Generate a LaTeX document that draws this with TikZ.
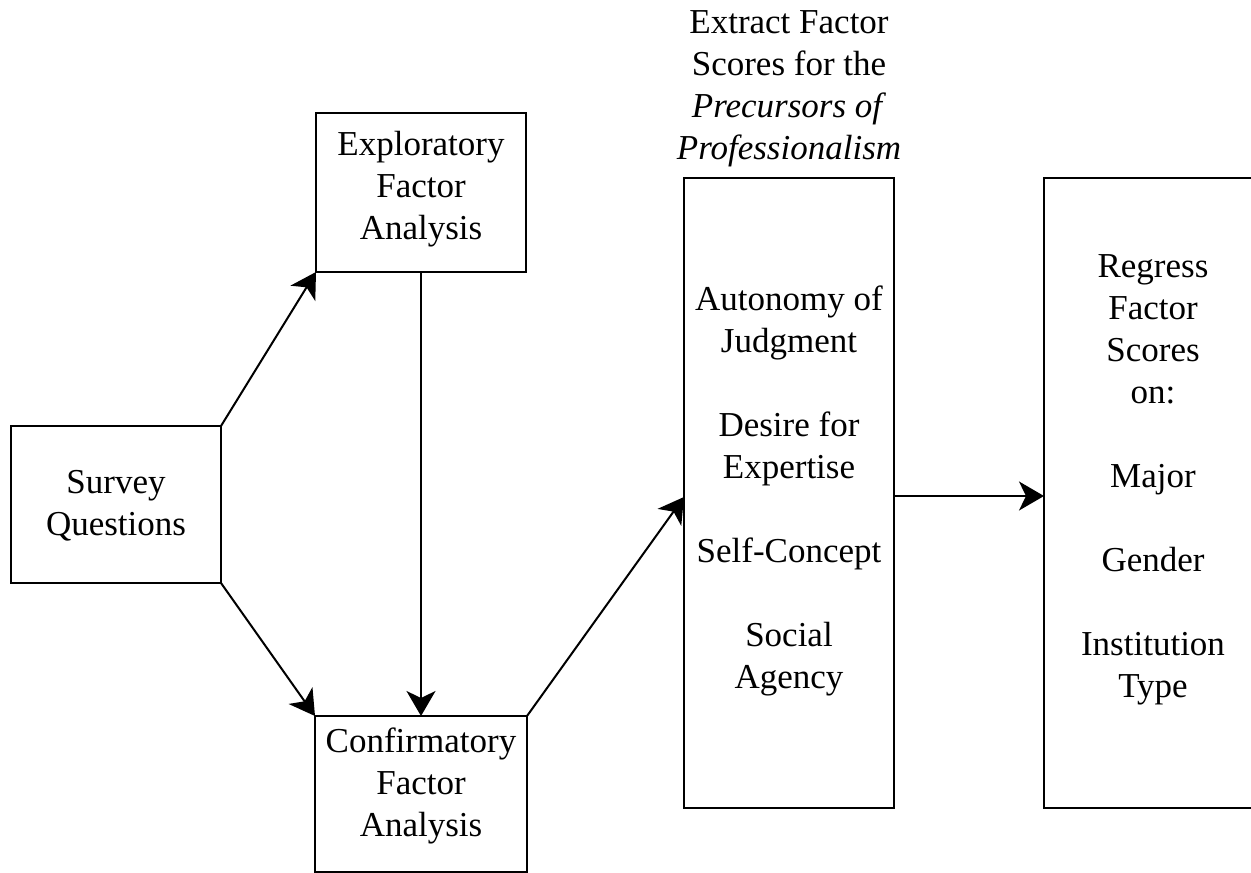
\documentclass[tikz,border=0pt]{standalone}
\usepackage{fontspec}
\setmainfont{Liberation Serif}
\usetikzlibrary{arrows.meta}
\newcommand{\fst}{\rule{0pt}{26pt}}
\begin{document}
\begin{tikzpicture}[x=1pt,y=-1pt,
  box/.style={draw=black, line width=2pt, inner sep=0pt, outer sep=0pt},
  lbl/.style={anchor=north, inner sep=0pt, outer sep=0pt, align=center, font=\fontsize{35}{42}\selectfont},
  conn/.style={line width=2pt, -{Stealth[length=25pt,width=29pt,inset=7pt]}}
]
\fill[white] (0,0) rectangle (1251,873);
\clip (0,0) rectangle (1251,873);

% boxes
\node[box, minimum width=210pt, minimum height=157pt] (survey) at (116,504.5) {};
\node[box, minimum width=210pt, minimum height=159pt] (explor) at (421,192.5) {};
\node[box, minimum width=212pt, minimum height=156pt] (confirm) at (421,794) {};
\node[box, minimum width=210pt, minimum height=630pt] (prec) at (789,493) {};
\node[box, minimum width=218pt, minimum height=630pt] (reg) at (1153,493) {};

% texts
\node[lbl] (tsurvey) at (116,467) {\fst Survey\\Questions};
\node[lbl] (texpl) at (421,129.5) {\fst Exploratory\\Factor\\Analysis};
\node[lbl] (tconf) at (421,726) {\fst Confirmatory\\Factor\\Analysis};
\node[lbl] (ttitle) at (789,7) {\fst Extract Factor\\Scores for the\\\textit{Precursors of}\\\textit{Professionalism}};
\node[lbl] (tprec) at (789,284) {\fst Autonomy of\\Judgment\\[42pt]Desire for\\Expertise\\[42pt]Self-Concept\\[42pt]Social\\Agency};
\node[lbl] (treg) at (1153,251) {\fst Regress\\Factor\\Scores\\on:\\[42pt]Major\\[42pt]Gender\\[42pt]Institution\\Type};

% connectors
\draw[conn] (survey.north east) -- (explor.south west);
\draw[conn] (survey.south east) -- (confirm.north west);
\draw[conn] (explor.south) -- (confirm.north);
\draw[conn] (confirm.north east) -- ([yshift=-4pt]prec.west);
\draw[conn] ([yshift=-3pt]prec.east) -- ([yshift=-3pt]reg.west);
\end{tikzpicture}
\end{document}
